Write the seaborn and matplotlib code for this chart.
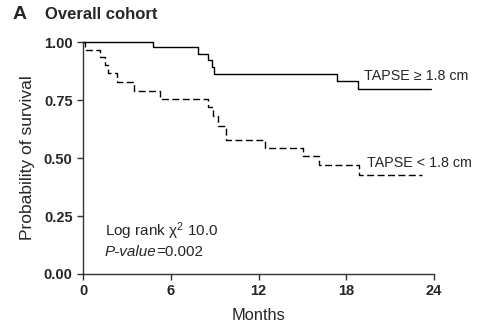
import matplotlib
matplotlib.use("Agg")
import matplotlib.pyplot as plt
import seaborn as sns
import pandas as pd

# Data
high_months = [0, 4.77, 7.84, 8.55, 8.8, 8.96, 17.35, 18.8, 23.8]
high_surv = [1.0, 0.977, 0.948, 0.922, 0.894, 0.863, 0.833, 0.797, 0.797]
low_months = [0, 0.14, 1.16, 1.5, 1.73, 2.35, 3.49, 5.26, 8.52, 8.87, 9.25, 9.75,
              12.45, 15.02, 16.16, 18.87, 23.2]
low_surv = [1.0, 0.967, 0.937, 0.90, 0.865, 0.826, 0.789, 0.753, 0.72, 0.68, 0.64,
            0.578, 0.542, 0.509, 0.47, 0.427, 0.427]
group_labels = ["TAPSE \u2265 1.8 cm", "TAPSE < 1.8 cm"]
x_ticks = [0, 6, 12, 18, 24]
y_ticks = [0.00, 0.25, 0.50, 0.75, 1.00]

sns.set_style("ticks")
plt.rcParams["font.family"] = ["Liberation Sans", "DejaVu Sans"]

fig = plt.figure(figsize=(4.81, 3.30), dpi=100)
ax = fig.add_axes([0.1726, 0.1697, 0.7297, 0.7030])

df_high = pd.DataFrame({"Months": high_months, "Survival": high_surv})
df_low = pd.DataFrame({"Months": low_months, "Survival": low_surv})

sns.lineplot(data=df_high, x="Months", y="Survival", ax=ax, color="black",
             linewidth=1.0, drawstyle="steps-post", estimator=None, clip_on=False)
sns.lineplot(data=df_low, x="Months", y="Survival", ax=ax, color="black",
             linewidth=1.0, drawstyle="steps-post", estimator=None, clip_on=False,
             linestyle=(0, (5, 2.5)))

ax.set_xlim(0, 24)
ax.set_ylim(0, 1.0)
ax.set_xticks(x_ticks)
ax.set_xticklabels([str(t) for t in x_ticks], fontweight="bold", fontsize=10.5)
ax.set_yticks(y_ticks)
ax.set_yticklabels([f"{t:.2f}" for t in y_ticks], fontweight="bold", fontsize=10.5)
ax.tick_params(axis="both", length=4.5, width=1, color="#333333", pad=3)
for s in ["top", "right"]:
    ax.spines[s].set_visible(False)
for s in ["left", "bottom"]:
    ax.spines[s].set_linewidth(1.0)
    ax.spines[s].set_color("#333333")

ax.set_xlabel("Months", fontsize=11.8, labelpad=7)
ax.set_ylabel("Probability of survival", fontsize=12.5, labelpad=6)

ax.text(19.2, 0.854, group_labels[0], fontsize=10.3, va="center", ha="left")
ax.text(19.4, 0.48, group_labels[1], fontsize=10.3, va="center", ha="left")

ax.text(1.5, 0.185, "Log rank $\\mathregular{\\chi^2}$ 10.0", fontsize=11, va="center")
t = ax.text(1.5, 0.095, "P-value", fontsize=11, va="center", style="italic")
fig.canvas.draw()
bb = t.get_window_extent()
x_end = ax.transData.inverted().transform((bb.x1, bb.y0))[0]
ax.text(x_end, 0.095, "=0.002", fontsize=11, va="center")

fig.text(0.027, 0.955, "A", fontsize=14, fontweight="bold", va="center")
fig.text(0.093, 0.955, "Overall cohort", fontsize=12, fontweight="bold", va="center")

fig.savefig("out.png", dpi=100)
